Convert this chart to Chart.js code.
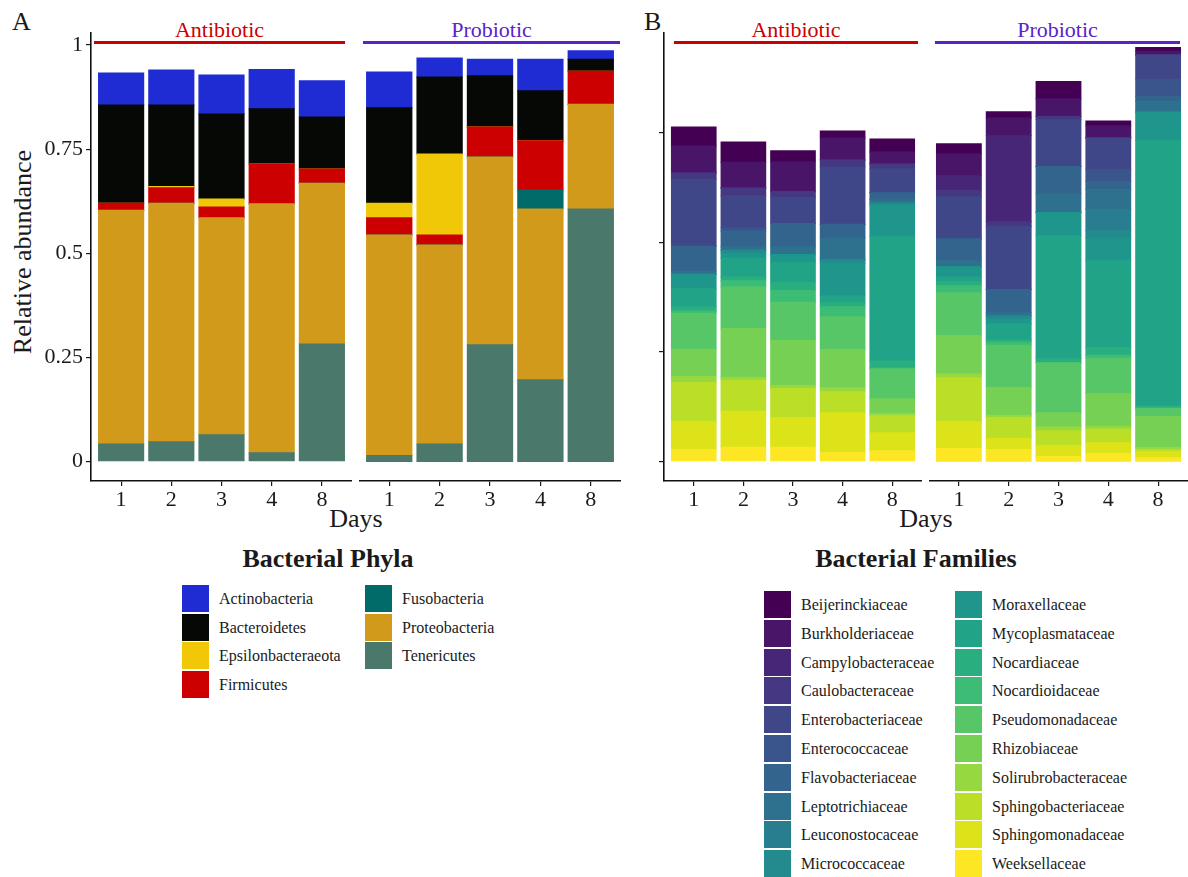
<!DOCTYPE html>
<html lang="en">
<head>
<meta charset="UTF-8">
<title>Relative abundance of bacterial phyla and families</title>
<script src="https://cdn.jsdelivr.net/npm/chart.js"></script>
<style>
    body {
        margin: 0;
        background: #fff;
        font-family: "Liberation Serif", "Times New Roman", serif;
        color: #1a1a1a;
    }
    #page {
        position: relative;
        width: 1188px;
        height: 877px;
        overflow: hidden;
    }
    canvas {
        position: absolute;
        top: 0;
    }
    .txt {
        position: absolute;
        white-space: nowrap;
        font-size: 26px;
        line-height: 26px;
    }
    .strip {
        position: absolute;
        top: 18.5px;
        height: 22px;
        line-height: 22px;
        font-size: 22px;
        text-align: center;
        border-bottom: 3px solid;
    }
    .key {
        position: absolute;
        width: 27px;
        height: 27px;
    }
    .key-label {
        position: absolute;
        font-size: 16px;
        line-height: 27px;
        white-space: nowrap;
    }
</style>
</head>
<body>
<div id="page">
    <div class="txt" style="left:12px;top:9px">A</div>
    <div class="txt" style="left:644px;top:9px">B</div>
    <div class="txt" style="left:23px;top:252px;transform:translate(-50%,-50%) rotate(-90deg)">Relative abundance</div>
    <div class="txt" style="left:356px;top:506px;transform:translateX(-50%)">Days</div>
    <div class="txt" style="left:926px;top:506px;transform:translateX(-50%)">Days</div>

    <div class="strip" style="left:94px;width:251px;color:#CC0000">Antibiotic</div>
    <div class="strip" style="left:363px;width:257px;color:#5A22CC">Probiotic</div>
    <div class="strip" style="left:674px;width:244px;color:#CC0000">Antibiotic</div>
    <div class="strip" style="left:935px;width:245px;color:#5A22CC">Probiotic</div>

    <canvas id="phylaAb" width="352" height="540" style="left:0"></canvas>
    <canvas id="phylaPb" width="262" height="540" style="left:359px"></canvas>
    <canvas id="famAb" width="300" height="540" style="left:622px"></canvas>
    <canvas id="famPb" width="259" height="540" style="left:929px"></canvas>
</div>

<script>
    const days = ['1', '2', '3', '4', '8'];

    const phyla = ['Actinobacteria', 'Bacteroidetes', 'Epsilonbacteraeota', 'Firmicutes',
                   'Fusobacteria', 'Proteobacteria', 'Tenericutes'];
    const phylaColors = ['#1F2CD3', '#060806', '#F0C808', '#CC0000', '#006B68', '#D19A1A', '#4A796C'];

    // one row per phylum, columns = days 1, 2, 3, 4, 8
    const phylaAntibiotic = [
        [0.077, 0.084, 0.094, 0.094, 0.087],
        [0.236, 0.196, 0.204, 0.132, 0.125],
        [0.000, 0.003, 0.019, 0.000, 0.000],
        [0.017, 0.037, 0.026, 0.096, 0.034],
        [0.000, 0.000, 0.000, 0.000, 0.000],
        [0.561, 0.573, 0.521, 0.598, 0.386],
        [0.042, 0.047, 0.064, 0.021, 0.282]
    ];
    const phylaProbiotic = [
        [0.086, 0.046, 0.040, 0.076, 0.020],
        [0.229, 0.185, 0.123, 0.120, 0.029],
        [0.035, 0.194, 0.000, 0.000, 0.000],
        [0.041, 0.024, 0.072, 0.118, 0.079],
        [0.000, 0.000, 0.000, 0.046, 0.000],
        [0.530, 0.478, 0.451, 0.410, 0.252],
        [0.014, 0.042, 0.280, 0.196, 0.606]
    ];

    const families = ['Beijerinckiaceae', 'Burkholderiaceae', 'Campylobacteraceae', 'Caulobacteraceae',
                      'Enterobacteriaceae', 'Enterococcaceae', 'Flavobacteriaceae', 'Leptotrichiaceae',
                      'Leuconostocaceae', 'Micrococcaceae', 'Moraxellaceae', 'Mycoplasmataceae',
                      'Nocardiaceae', 'Nocardioidaceae', 'Pseudomonadaceae', 'Rhizobiaceae',
                      'Solirubrobacteraceae', 'Sphingobacteriaceae', 'Sphingomonadaceae', 'Weeksellaceae'];
    // viridis, 20 steps
    const familyColors = ['#440154', '#481568', '#482677', '#453781', '#3F4788', '#39558C', '#32648E',
                          '#2D718E', '#287D8E', '#238A8D', '#1F968B', '#20A386', '#29AF7F', '#3CBC75',
                          '#56C667', '#75D054', '#95D840', '#BBDF27', '#DCE318', '#FDE725'];

    // one row per day (1, 2, 3, 4, 8), columns follow `families`
    const familiesAntibiotic = [
        [0.043, 0.062, 0, 0.014, 0.153, 0, 0.057, 0.007, 0, 0, 0.032, 0.043, 0.009, 0.005, 0.082, 0.062, 0.014, 0.089, 0.064, 0.027],
        [0.046, 0.059, 0, 0.018, 0.073, 0.007, 0.037, 0.007, 0, 0.007, 0.011, 0.043, 0.009, 0.014, 0.094, 0.112, 0.007, 0.071, 0.082, 0.032],
        [0.025, 0.068, 0, 0.014, 0.059, 0, 0.053, 0.018, 0, 0, 0.018, 0.046, 0.018, 0.027, 0.087, 0.103, 0.007, 0.066, 0.068, 0.032],
        [0.016, 0.050, 0, 0.016, 0.130, 0.002, 0.030, 0.050, 0, 0.007, 0.075, 0.016, 0.009, 0.023, 0.075, 0.087, 0.009, 0.048, 0.091, 0.020],
        [0.030, 0.027, 0, 0.011, 0.055, 0, 0.016, 0.007, 0, 0.005, 0.071, 0.285, 0.016, 0.002, 0.068, 0.034, 0.005, 0.039, 0.041, 0.024]
    ];
    const familiesProbiotic = [
        [0.023, 0.050, 0.034, 0.014, 0.096, 0, 0.050, 0.014, 0, 0, 0.023, 0.011, 0.009, 0.016, 0.098, 0.087, 0.009, 0.100, 0.062, 0.029],
        [0.014, 0.041, 0.196, 0.011, 0.144, 0, 0.053, 0.007, 0, 0.007, 0.011, 0.037, 0.005, 0.007, 0.096, 0.064, 0.005, 0.048, 0.025, 0.027],
        [0.039, 0.041, 0, 0.007, 0.107, 0, 0.062, 0.043, 0, 0, 0.053, 0.281, 0.009, 0, 0.114, 0.032, 0.009, 0.034, 0.025, 0.011],
        [0.011, 0.027, 0, 0.002, 0.071, 0.027, 0.018, 0.046, 0.048, 0.018, 0.050, 0.199, 0.018, 0.007, 0.080, 0.075, 0.007, 0.030, 0.025, 0.018],
        [0.009, 0.007, 0, 0.002, 0.055, 0.039, 0.011, 0.023, 0.002, 0, 0.064, 0.607, 0.005, 0, 0.018, 0.071, 0.005, 0.005, 0.014, 0.008]
    ];

    const serif = '"Liberation Serif", "Times New Roman", serif';

    // first legend entry sits on top of the stack, so datasets go in reverse
    function buildDatasets(names, colors, valueOf) {
        return names.map((name, k) => ({
            label: name,
            data: days.map((d, i) => ({ x: i + 1, y: valueOf(k, i) })),
            backgroundColor: colors[k],
            borderWidth: 0,
            inflateAmount: 0.5
        })).reverse();
    }

    function makeFacet(id, datasets, yMin, yMax, yTicks, showYLabels, yWidth) {
        new Chart(document.getElementById(id), {
            type: 'bar',
            data: { datasets: datasets },
            options: {
                responsive: false,
                animation: false,
                devicePixelRatio: 1,
                layout: { padding: { top: 32.5, right: 0, bottom: 0, left: 0 } },
                plugins: { legend: { display: false }, tooltip: { enabled: false } },
                datasets: { bar: { barPercentage: 0.9, categoryPercentage: 1 } },
                scales: {
                    x: {
                        type: 'linear',
                        stacked: true,
                        min: 0.4,
                        max: 5.6,
                        offset: false,
                        afterBuildTicks: s => { s.ticks = days.map((d, i) => ({ value: i + 1 })); },
                        afterFit: s => { s.height = 59; },
                        ticks: {
                            callback: v => days[v - 1],
                            font: { family: serif, size: 22 },
                            color: '#1a1a1a',
                            padding: 1,
                            maxRotation: 0
                        },
                        grid: { offset: false, drawOnChartArea: false, tickLength: 5, color: '#1a1a1a', lineWidth: 1.2 },
                        border: { display: true, color: '#111', width: 1.6 }
                    },
                    y: {
                        stacked: true,
                        display: yWidth > 0,
                        min: yMin,
                        max: yMax,
                        afterBuildTicks: s => { s.ticks = yTicks.map(v => ({ value: v })); },
                        afterFit: s => { s.width = yWidth; },
                        ticks: {
                            callback: v => showYLabels ? String(v) : '',
                            font: { family: serif, size: 22 },
                            color: '#1a1a1a',
                            padding: 3
                        },
                        grid: { drawOnChartArea: false, tickLength: 5, color: '#1a1a1a', lineWidth: 1.2 },
                        border: { display: true, color: '#111', width: 1.6 }
                    }
                }
            }
        });
    }

    const phylaTicks = [0, 0.25, 0.5, 0.75, 1];
    const familyTicks = [0, 0.25, 0.5, 0.75];

    makeFacet('phylaAb', buildDatasets(phyla, phylaColors, (k, i) => phylaAntibiotic[k][i]),
              -0.047, 1.03, phylaTicks, true, 91);
    makeFacet('phylaPb', buildDatasets(phyla, phylaColors, (k, i) => phylaProbiotic[k][i]),
              -0.047, 1.03, phylaTicks, true, 0);
    makeFacet('famAb', buildDatasets(families, familyColors, (k, i) => familiesAntibiotic[i][k]),
              -0.045, 0.979, familyTicks, false, 42);
    makeFacet('famPb', buildDatasets(families, familyColors, (k, i) => familiesProbiotic[i][k]),
              -0.045, 0.979, familyTicks, false, 0);

    // legends below each panel, two columns each
    function buildLegend(title, titleX, names, colors, columns, top, pitch) {
        const page = document.getElementById('page');
        const head = document.createElement('div');
        head.className = 'txt';
        head.style.cssText = `left:${titleX}px;top:546px;font-weight:bold;transform:translateX(-50%)`;
        head.textContent = title;
        page.appendChild(head);

        names.forEach((name, k) => {
            const col = columns.find(c => k >= c.from && k < c.to);
            const row = k - col.from;
            const key = document.createElement('div');
            key.className = 'key';
            key.style.left = col.keyX + 'px';
            key.style.top = (top + row * pitch) + 'px';
            key.style.background = colors[k];
            page.appendChild(key);

            const label = document.createElement('div');
            label.className = 'key-label';
            label.style.left = col.labelX + 'px';
            label.style.top = (top + row * pitch) + 'px';
            label.textContent = name;
            page.appendChild(label);
        });
    }

    buildLegend('Bacterial Phyla', 328, phyla, phylaColors,
                [{ from: 0, to: 4, keyX: 182, labelX: 219 }, { from: 4, to: 7, keyX: 365, labelX: 402 }],
                585, 28.6);
    buildLegend('Bacterial Families', 916, families, familyColors,
                [{ from: 0, to: 10, keyX: 764, labelX: 801 }, { from: 10, to: 20, keyX: 955, labelX: 992 }],
                591, 28.8);
</script>
</body>
</html>
